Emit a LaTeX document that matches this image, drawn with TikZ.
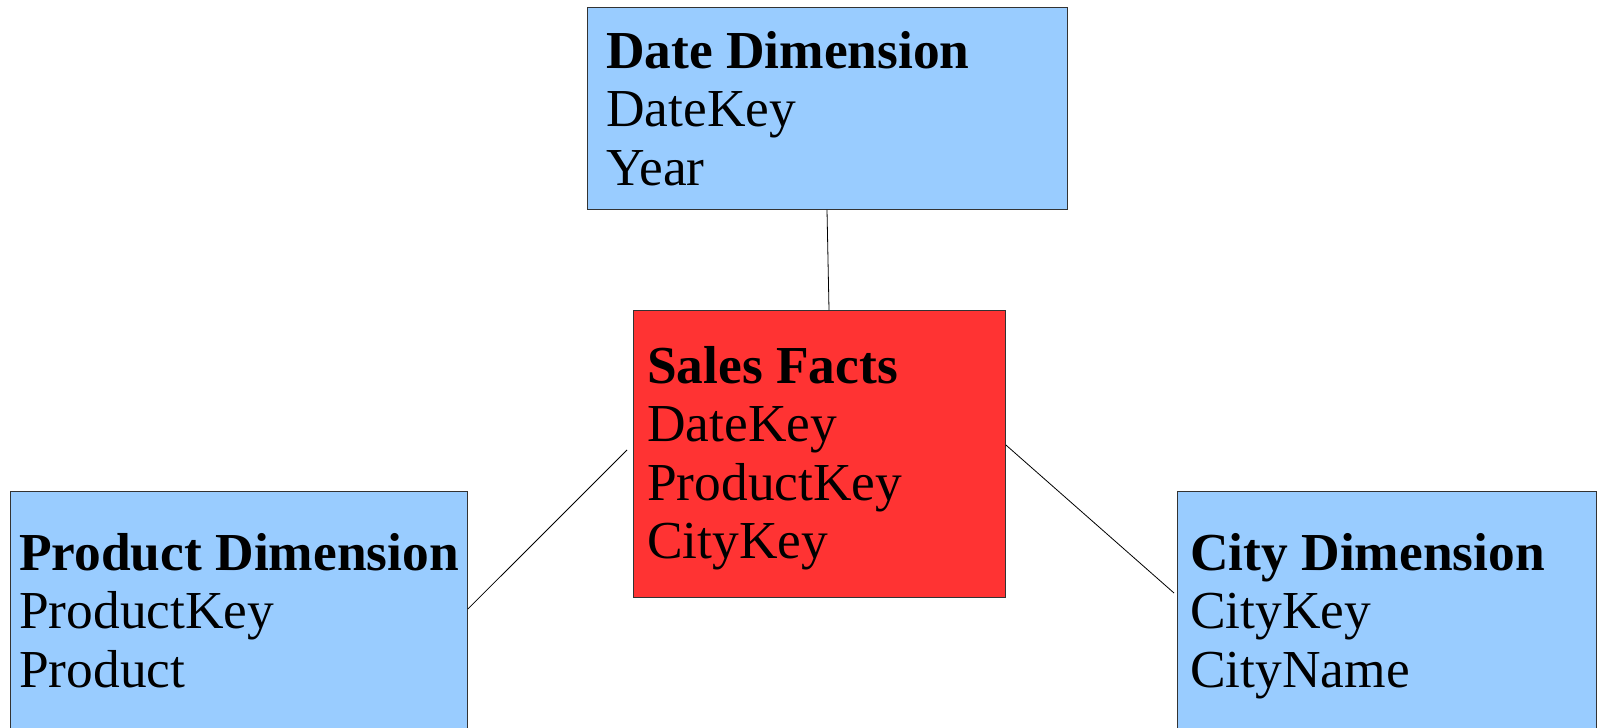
\documentclass[tikz,border=0pt]{standalone}
\usepackage{fontspec}
\setmainfont{Liberation Serif}
\usetikzlibrary{calc}
\definecolor{dimblue}{HTML}{99CCFF}
\definecolor{factred}{HTML}{FF3333}
\definecolor{edgegray}{HTML}{333333}
\newcommand{\tablelines}[3]{\vtop{\baselineskip=58.6pt\hbox{\textbf{#1}}\hbox{#2}\hbox{#3}}}
\newcommand{\tablefour}[4]{\vtop{\baselineskip=58.6pt\hbox{\textbf{#1}}\hbox{#2}\hbox{#3}\hbox{#4}}}
\begin{document}
\begin{tikzpicture}[x=1pt,y=-1pt,
  tablebox/.style={draw=edgegray,line width=0.9pt,rectangle,inner sep=0pt,anchor=north west},
  dim/.style={tablebox,fill=dimblue},
  fact/.style={tablebox,fill=factred},
  fields/.style={anchor=base west,inner sep=0pt,font=\fontsize{53.4pt}{58.6pt}\selectfont},
  link/.style={draw=black,line width=0.8pt}]
  \useasboundingbox (0,0) rectangle (1598,728);
  \fill[white] (0,0) rectangle (1598,728);

  % tables
  \node[dim,minimum width=480pt,minimum height=202pt] (date) at (587,7) {};
  \node[fact,minimum width=372pt,minimum height=287pt] (sales) at (633,310) {};
  \node[dim,minimum width=457pt,minimum height=260pt] (product) at (10,491) {};
  \node[dim,minimum width=419pt,minimum height=260pt] (city) at (1177,491) {};

  % field lists
  \node[fields] (datetxt) at (606,68) {\tablelines{Date Dimension}{DateKey}{Year}};
  \node[fields] (salestxt) at (647,383) {\tablefour{Sales Facts}{DateKey}{ProductKey}{CityKey}};
  \node[fields] (producttxt) at (19,570) {\tablelines{Product Dimension}{ProductKey}{Product}};
  \node[fields] (citytxt) at (1190,570) {\tablelines{City Dimension}{CityKey}{CityName}};

  % relations
  \draw[link] ($(date.south west)+(240,0)$) -- ($(sales.north west)+(196,0)$);
  \draw[link] ($(sales.north west)+(-6,140)$) -- ($(product.north east)+(0,118)$);
  \draw[link] ($(sales.north east)+(0,135)$) -- ($(city.north west)+(-3,102)$);
\end{tikzpicture}
\end{document}
